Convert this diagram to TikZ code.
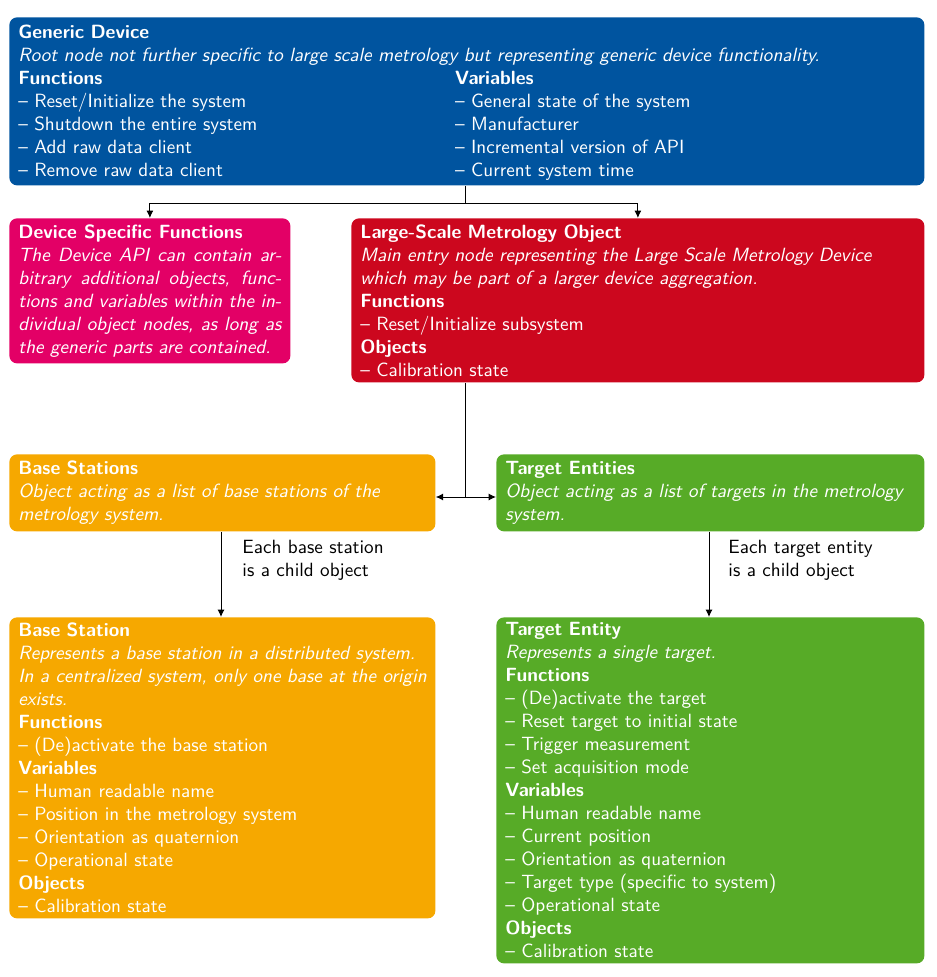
\documentclass[tikz,border=0pt]{standalone}
\usetikzlibrary{arrows.meta}
\newlength\PX
\setlength\PX{0.522pt}
\definecolor{rwblue}{RGB}{0,84,159}
\definecolor{rwmagenta}{RGB}{227,0,102}
\definecolor{rwred}{RGB}{204,7,30}
\definecolor{rworange}{RGB}{246,168,0}
\definecolor{rwgreen}{RGB}{87,171,39}
\newcommand{\itm}{\textendash\ }
\begin{document}
\begin{tikzpicture}[x=0.522pt,y=-0.522pt,
  box/.style={rounded corners=4pt, text=white, align=left, anchor=north west,
    inner xsep=9\PX, inner ysep=1pt, font=\sffamily\fontsize{10}{12}\selectfont},
  lbl/.style={align=left, anchor=west, inner sep=0pt, font=\sffamily\fontsize{10}{12}\selectfont},
  arr/.style={-{Latex[length=3.8pt,width=3.6pt]}, line width=0.5pt},
  conn/.style={line width=0.5pt}]
\useasboundingbox (0,0) rectangle (936,977);

\node[box, fill=rwblue, text width=897\PX, minimum height=168\PX] (gd) at (9,17) {%
\rule{0pt}{9.8pt}\textbf{Generic Device}\\
\textit{Root node not further specific to large scale metrology but representing generic device functionality.}\\
\begin{tabular}[t]{@{}p{228pt}@{}l@{}}
\textbf{Functions} & \textbf{Variables}\\
\itm Reset/Initialize the system & \itm General state of the system\\
\itm Shutdown the entire system & \itm Manufacturer\\
\itm Add raw data client & \itm Incremental version of API\\
\itm Remove raw data client & \itm Current system time
\end{tabular}};

\node[box, fill=rwmagenta, align=justify, text width=263\PX, minimum height=145\PX] (dsf) at (9,218) {%
\textbf{Device Specific Functions}\\
\textit{The Device API can contain ar\-bitrary additional objects, func\-tions and variables within the in\-dividual object nodes, as long as the generic parts are contained.}};

\node[box, fill=rwred, text width=555\PX, minimum height=164\PX] (lsm) at (351,218) {%
\textbf{Large-Scale Metrology Object}\\
\mbox{\textit{Main entry node representing the Large Scale Metrology Device}}\\
\textit{which may be part of a larger device aggregation.}\\
\textbf{Functions}\\
\itm Reset/Initialize subsystem\\
\textbf{Objects}\\
\itm Calibration state};

\node[box, fill=rworange, text width=408\PX, minimum height=77\PX] (bs) at (9,454) {%
\textbf{Base Stations}\\
\mbox{\textit{Object acting as a list of base stations of the}}\\
\textit{metrology system.}};

\node[box, fill=rwgreen, text width=410\PX, minimum height=77\PX] (te) at (496,454) {%
\textbf{Target Entities}\\
\mbox{\textit{Object acting as a list of targets in the metrology}}\\
\textit{system.}};

\node[box, fill=rworange, text width=408\PX, minimum height=301\PX] (bsi) at (9,617) {%
\textbf{Base Station}\\
\mbox{\textit{Represents a base station in a distributed system.}}\\
\mbox{\textit{In a centralized system, only one base at the origin}}\\
\textit{exists.}\\
\textbf{Functions}\\
\itm (De)activate the base station\\
\textbf{Variables}\\
\itm Human readable name\\
\itm Position in the metrology system\\
\itm Orientation as quaternion\\
\itm Operational state\\
\textbf{Objects}\\
\itm Calibration state};

\node[box, fill=rwgreen, text width=410\PX, minimum height=346\PX] (tei) at (496,617) {%
\textbf{Target Entity}\\
\textit{Represents a single target.}\\
\textbf{Functions}\\
\itm (De)activate the target\\
\itm Reset target to initial state\\
\itm Trigger measurement\\
\itm Set acquisition mode\\
\textbf{Variables}\\
\itm Human readable name\\
\itm Current position\\
\itm Orientation as quaternion\\
\itm Target type (specific to system)\\
\itm Operational state\\
\textbf{Objects}\\
\itm Calibration state};

% connectors
\coordinate (j1) at (465,203);
\draw[conn] (gd.south -| j1) -- (j1);
\draw[arr] (j1) -| (dsf.north);
\draw[arr] (j1) -| (lsm.north);

\coordinate (j2) at (465,497);
\draw[conn] (lsm.south -| j2) -- (j2);
\draw[arr] (j2) -- (bs.east |- j2);
\draw[arr] (j2) -- (te.west |- j2);

\coordinate (c1) at (221,0);
\draw[arr] (bs.south -| c1) -- node[lbl, pos=0.33, xshift=21\PX] (l1) {Each base station\\is a child object} (bsi.north -| c1);
\coordinate (c2) at (709,0);
\draw[arr] (te.south -| c2) -- node[lbl, pos=0.33, xshift=19\PX] (l2) {Each target entity\\is a child object} (tei.north -| c2);
\end{tikzpicture}
\end{document}
